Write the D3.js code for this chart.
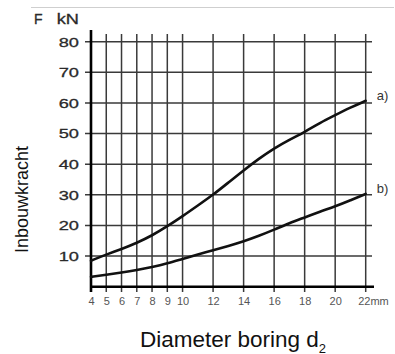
<!DOCTYPE html>
<html>
<head>
<meta charset="utf-8">
<script src="https://cdn.jsdelivr.net/npm/d3@7"></script>
<style>
  body { margin: 0; background: #fff; }
  svg { display: block; font-family: "Liberation Sans", Arial, sans-serif; }
</style>
</head>
<body>
<script>
// diameter (mm) and force (kN)
const diameters = [4, 5, 6, 7, 8, 9, 10, 11, 12, 13, 14, 15, 16, 17, 18, 19, 20, 21, 22];
const forceA = [8.5, 10.5, 12.3, 14.3, 16.7, 19.7, 23, 26.5, 30, 34, 38, 41.8, 45.2, 48, 50.5, 53.5, 56, 58.5, 60.7];
const forceB = [3.2, 3.9, 4.6, 5.4, 6.4, 7.6, 9.1, 10.5, 11.9, 13.3, 14.8, 16.6, 18.6, 20.8, 22.6, 24.5, 26.2, 28.2, 30.3];
const seriesNames = ['a)', 'b)'];

const xTicks = [4, 5, 6, 7, 8, 9, 10, 12, 14, 16, 18, 20, 22];
const yTicks = [10, 20, 30, 40, 50, 60, 70, 80];

const width = 395;
const height = 354;

const x = d3.scaleLinear().domain([4, 22]).range([91, 365.7]);
const y = d3.scaleLinear().domain([0, 80]).range([286.7, 41.7]);

const svg = d3.select('body')
  .append('svg')
  .attr('width', width)
  .attr('height', height);

// thin grey rule at the top
svg.append('line')
  .attr('x1', 31).attr('x2', 394)
  .attr('y1', 7.5).attr('y2', 7.5)
  .attr('stroke', '#cfcfcf')
  .attr('stroke-width', 1);

// vertical grid
svg.append('g')
  .selectAll('line')
  .data(xTicks.slice(1))
  .join('line')
  .attr('x1', (d) => x(d)).attr('x2', (d) => x(d))
  .attr('y1', 34).attr('y2', 292)
  .attr('stroke', '#3a3a3a')
  .attr('stroke-width', 1.5);

// horizontal grid
svg.append('g')
  .selectAll('line')
  .data(yTicks)
  .join('line')
  .attr('x1', 85).attr('x2', 372)
  .attr('y1', (d) => y(d)).attr('y2', (d) => y(d))
  .attr('stroke', '#3a3a3a')
  .attr('stroke-width', 1.5);

// axes lines
svg.append('line')
  .attr('x1', x(4)).attr('x2', x(4))
  .attr('y1', 30).attr('y2', 292)
  .attr('stroke', '#000')
  .attr('stroke-width', 2.6);

svg.append('line')
  .attr('x1', x(4) - 1).attr('x2', 374)
  .attr('y1', y(0)).attr('y2', y(0))
  .attr('stroke', '#000')
  .attr('stroke-width', 2.6);

// y tick labels
const yAxis = svg.append('g')
  .attr('transform', `translate(${x(4)},0)`)
  .call(d3.axisLeft(y).tickValues(yTicks).tickSize(0).tickPadding(12));
yAxis.select('.domain').remove();
yAxis.selectAll('text')
  .attr('x', null)
  .attr('transform', 'translate(-12,0) scale(1.35,1)')
  .attr('font-size', 13.5)
  .attr('font-family', '"Liberation Sans", Arial, sans-serif')
  .attr('fill', '#2a2a2a')
  .attr('stroke', '#2a2a2a')
  .attr('stroke-width', 0.3);

// x tick labels
const xAxis = svg.append('g')
  .attr('transform', `translate(0,${y(0)})`)
  .call(d3.axisBottom(x).tickValues(xTicks).tickSize(0).tickPadding(11)
    .tickFormat((d) => (d === 22 ? '22mm' : d)));
xAxis.select('.domain').remove();
xAxis.selectAll('text')
  .attr('font-size', 11)
  .attr('font-family', '"Liberation Sans", Arial, sans-serif')
  .attr('fill', '#555')
  .filter((d) => d === 22)
  .attr('text-anchor', 'start')
  .attr('x', -8);

// unit label
svg.append('text')
  .attr('x', 34).attr('y', 24)
  .attr('font-size', 14)
  .attr('fill', '#2a2a2a')
  .attr('stroke', '#2a2a2a')
  .attr('stroke-width', 0.3)
  .text('F');
svg.append('text')
  .attr('x', 0).attr('y', 0)
  .attr('text-anchor', 'end')
  .attr('font-size', 14)
  .attr('fill', '#2a2a2a')
  .attr('stroke', '#2a2a2a')
  .attr('stroke-width', 0.3)
  .attr('transform', 'translate(79,24) scale(1.3,1)')
  .text('kN');

// curves
const line = d3.line()
  .x((d) => x(d[0]))
  .y((d) => y(d[1]))
  .curve(d3.curveBasis);

[forceA, forceB].forEach((vals, i) => {
  const pts = diameters.map((d, j) => [d, vals[j]]);
  svg.append('path')
    .datum(pts)
    .attr('fill', 'none')
    .attr('stroke', '#111')
    .attr('stroke-width', 2.6)
    .attr('stroke-linecap', 'round')
    .attr('d', line);
  svg.append('text')
    .attr('x', x(22) + 11)
    .attr('y', y(vals[vals.length - 1]) - 1)
    .attr('font-size', 13)
    .attr('fill', '#333')
    .text(seriesNames[i]);
});

// axis titles
svg.append('text')
  .attr('transform', 'translate(28,253) rotate(-90)')
  .attr('font-size', 18)
  .attr('fill', '#111')
  .text('Inbouwkracht');

const xt = svg.append('text')
  .attr('x', 140).attr('y', 346.5)
  .attr('font-size', 22.5)
  .attr('fill', '#111');
xt.append('tspan').text('Diameter boring d');
xt.append('tspan').attr('dy', 6).attr('font-size', 13).text('2');
</script>
</body>
</html>
